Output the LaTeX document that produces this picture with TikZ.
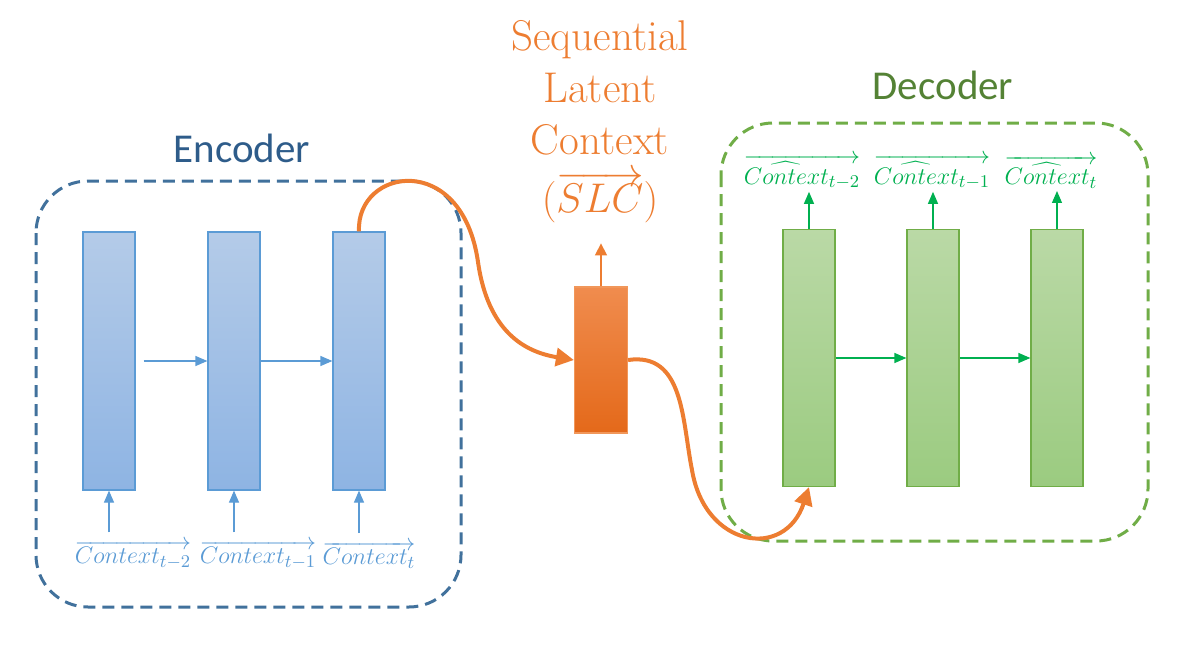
\documentclass[tikz,border=0pt]{standalone}
\usepackage{fontspec}
\setsansfont{Carlito}
\usetikzlibrary{arrows.meta}
\definecolor{encdash}{HTML}{41719C}
\definecolor{enctext}{HTML}{2E5C8A}
\definecolor{eblue}{HTML}{5B9BD5}
\definecolor{ebtop}{HTML}{B4CBE8}
\definecolor{ebbot}{HTML}{8EB4E3}
\definecolor{orng}{HTML}{ED7D31}
\definecolor{otop}{HTML}{F08C4E}
\definecolor{obot}{HTML}{E4691A}
\definecolor{gdash}{HTML}{70AD47}
\definecolor{gtext}{HTML}{548235}
\definecolor{garrow}{HTML}{00B050}
\definecolor{gtop}{HTML}{BAD9A6}
\definecolor{gbot}{HTML}{9BCB80}
\begin{document}
\begin{tikzpicture}[x=0.5pt,y=-0.5pt,
  encbar/.style={draw=eblue,line width=0.6pt,top color=ebtop,bottom color=ebbot,minimum width=26pt,minimum height=129pt,inner sep=0pt},
  decbar/.style={draw=gdash,line width=0.6pt,top color=gtop,bottom color=gbot,minimum width=26pt,minimum height=128.5pt,inner sep=0pt},
  slcbar/.style={draw=orng!80!white,line width=0.6pt,top color=otop,bottom color=obot,minimum width=26.5pt,minimum height=73pt,inner sep=0pt},
  groupbox/.style={dash pattern=on 6pt off 3.5pt,line width=1.5pt,rounded corners=26pt},
  earrow/.style={draw=eblue,line width=0.6pt,-{Triangle[length=6pt,width=5pt]}},
  garr/.style={draw=garrow,line width=0.6pt,-{Triangle[length=6pt,width=5pt]}},
  oarrow/.style={draw=orng,line width=0.7pt,-{Triangle[length=6pt,width=6pt]}},
  curve/.style={draw=orng,line width=2pt,-{Triangle[length=9pt,width=9pt]}},
  elabel/.style={text=eblue,inner sep=0pt,font=\fontsize{12.5}{14}\selectfont},
  glabel/.style={text=garrow,inner sep=0pt,font=\fontsize{12.5}{14}\selectfont},
  title/.style={font=\sffamily\fontsize{20.5}{24}\selectfont}
]
\useasboundingbox (0,0) rectangle (1196,653);
% group boxes
\draw[groupbox,draw=encdash] (36,181) rectangle (461,607);
\draw[groupbox,draw=gdash] (721,123) rectangle (1148,541);
\node[title,text=enctext] (enct) at (242,148) {Encoder};
\node[title,text=gtext] (dect) at (943,85) {Decoder};
% encoder bars
\node[encbar] (e1) at (109,361) {};
\node[encbar] (e2) at (234,361) {};
\node[encbar] (e3) at (359,361) {};
\draw[earrow] ([xshift=4pt]e1.east) -- (e2.west);
\draw[earrow] (e2.east) -- (e3.west);
% encoder inputs
\node[elabel] (l1) at (133,555) {$\overrightarrow{Context_{t-2}}$};
\node[elabel] (l2) at (258,555) {$\overrightarrow{Context_{t-1}}$};
\node[elabel] (l3) at (369,555) {$\overrightarrow{Context_{t}}$};
\draw[earrow] ([yshift=4pt]e1.south |- l1.north) -- (e1.south);
\draw[earrow] ([yshift=4pt]e2.south |- l2.north) -- (e2.south);
\draw[earrow] ([yshift=4pt]e3.south |- l3.north) -- (e3.south);
% SLC
\node[slcbar] (slc) at (601,360) {};
\node[text=orng,align=center,font=\fontsize{21.5}{26}\selectfont] (slct) at (600,122)
  {Sequential\\Latent\\Context\\[3pt]$(\overrightarrow{SLC})$};
\draw[oarrow] (slc.north) -- ++(0,-43) coordinate (slctop);
% decoder bars
\node[decbar] (d1) at (809,358) {};
\node[decbar] (d2) at (933,358) {};
\node[decbar] (d3) at (1057,358) {};
\draw[garr] (d1.east) -- (d2.west);
\draw[garr] (d2.east) -- (d3.west);
\node[glabel] (g1) at (802,172) {$\overrightarrow{\widehat{Context}_{t-2}}$};
\node[glabel] (g2) at (932,172) {$\overrightarrow{\widehat{Context}_{t-1}}$};
\node[glabel] (g3) at (1051,172) {$\overrightarrow{\widehat{Context}_{t}}$};
\draw[garr] (d1.north) -- ([yshift=-1pt]d1.north |- g1.south);
\draw[garr] (d2.north) -- ([yshift=-1pt]d2.north |- g2.south);
\draw[garr] (d3.north) -- ([yshift=-1pt]d3.north |- g3.south);
% orange curves
\draw[curve] (e3.north) .. controls (356,168) and (462,150) .. (478,262)
  .. controls (488,332) and (525,352) .. (slc.west);
\draw[curve] (slc.east) .. controls (684,352) and (682,420) .. (692,470)
  .. controls (705,548) and (785,560) .. (d1.south);
\end{tikzpicture}
\end{document}
